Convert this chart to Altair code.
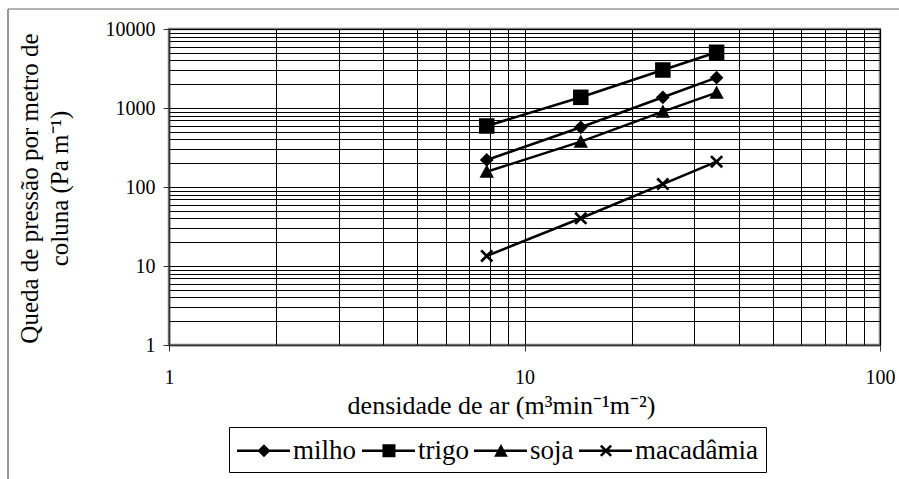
import altair as alt
import pandas as pd

# ---- data ----
series = ["milho", "trigo", "soja", "macadâmia"]
x_vals = [7.83, 14.4, 24.5, 34.7]
milho = [220, 570, 1366, 2420]
trigo = [592, 1366, 3027, 5070]
soja = [156, 375, 898, 1563]
macadamia = [13.4, 40.2, 109, 209]

x_major = [1, 10, 100]
y_major = [1, 10, 100, 1000, 10000]

rows = []
for name, vals in zip(series, [milho, trigo, soja, macadamia]):
    for xv, yv in zip(x_vals, vals):
        rows.append({"serie": name, "x": xv, "y": yv})
df = pd.DataFrame(rows)

# grid values: 1..9 times each decade
x_grid = [m * d for d in x_major[:-1] for m in range(1, 10)] + [x_major[-1]]
y_grid = [m * d for d in y_major[:-1] for m in range(1, 10)] + [y_major[-1]]

FONT = "Liberation Serif"
major = "abs(log(datum.value)/LN10 - round(log(datum.value)/LN10)) < 0.001"

xscale = alt.Scale(type="log", domain=[1, 100])
yscale = alt.Scale(type="log", domain=[1, 10000])

x_axis = alt.Axis(
    values=x_grid, format="d",
    labelExpr=f"({major}) ? datum.label : ''",
    labelOverlap=False, labelFlush=False, labelBound=False,
    tickOpacity={"condition": {"test": major, "value": 1}, "value": 0},
    tickSize=6, labelPadding=16,
    title="densidade de ar (m³min⁻¹m⁻²)",
    titleFont=FONT, titleFontSize=26, titleFontWeight="normal",
    titleX=332, titleY=68, titleBaseline="alphabetic", titleAlign="center",
)
y_axis = alt.Axis(
    values=y_grid, format="d",
    labelExpr=f"({major}) ? datum.label : ''",
    labelOverlap=False, labelFlush=False, labelBound=False,
    tickOpacity={"condition": {"test": major, "value": 1}, "value": 0},
    tickSize=6, labelPadding=8,
    title=["Queda de pressão por metro de", "coluna (Pa m⁻¹)"],
    titleFont=FONT, titleFontSize=25, titleFontWeight="normal",
    titleAngle=270, titleX=-132, titleY=159, titleBaseline="alphabetic",
    titleAlign="center", titleLineHeight=30,
)

# marker shapes (filled polygons, clockwise)
plot_paths = [
    "M0,-0.86L0.86,0L0,0.86L-0.86,0Z",
    "M-0.97,-0.97L0.97,-0.97L0.97,0.97L-0.97,0.97Z",
    "M0,-0.9L0.9,0.76L-0.9,0.76Z",
    "M-0.82,-0.58L-0.58,-0.82L0.82,0.58L0.58,0.82Z"
    "M0.58,-0.82L0.82,-0.58L-0.58,0.82L-0.82,0.58Z",
]

# legend symbols: line segment + marker
LINE = "M-1,-0.08L2.42,-0.08L2.42,0.08L-1,0.08Z"
c = 0.74
legend_paths = [
    LINE + f"M{c},-0.42L{c+0.42},0L{c},0.42L{c-0.42},0Z",
    LINE + f"M{c-0.42},-0.42L{c+0.42},-0.42L{c+0.42},0.42L{c-0.42},0.42Z",
    LINE + f"M{c},-0.44L{c+0.44},0.38L{c-0.44},0.38Z",
    LINE + f"M{c-0.39},-0.27L{c-0.27},-0.39L{c+0.39},0.27L{c+0.27},0.39Z"
    f"M{c+0.27},-0.39L{c+0.39},-0.27L{c-0.27},0.39L{c-0.39},0.27Z",
]

base = alt.Chart(df)

lines = base.mark_line(color="black", strokeWidth=2.5).encode(
    x=alt.X("x:Q", scale=xscale, axis=x_axis),
    y=alt.Y("y:Q", scale=yscale, axis=y_axis),
    detail="serie:N",
    order="x:Q",
)

points = base.mark_point(filled=True, color="black", opacity=1, size=256, strokeWidth=0).encode(
    x=alt.X("x:Q", scale=xscale),
    y=alt.Y("y:Q", scale=yscale),
    shape=alt.Shape("serie:N", scale=alt.Scale(domain=series, range=plot_paths), legend=None),
)

NB = "\u00a0"
legend_layer = base.transform_calculate(ylow="0.001").mark_point(
    filled=True, color="black", opacity=1, size=961, strokeWidth=0, clip=True
).encode(
    x=alt.X("x:Q", scale=xscale),
    y=alt.Y("ylow:Q", scale=yscale),
    shape=alt.Shape(
        "serie:N",
        scale=alt.Scale(domain=series, range=legend_paths),
        legend=alt.Legend(
            orient="none", legendX=60, legendY=398, direction="horizontal", columns=4,
            title=None, symbolSize=961, symbolStrokeWidth=0, symbolFillColor="black",
            symbolOpacity=1, labelFont=FONT, labelFontSize=27, labelColor="black",
            labelExpr=f"datum.label + (datum.label == 'macadâmia' ? '{NB * 6}' : '')",
            labelOffset=25, columnPadding=5, padding=8,
            strokeColor="black", fillColor="white",
        ),
    ),
)

frame_data = pd.DataFrame({"k": [0]})
frame_left = alt.Chart(frame_data).mark_rule(color="#333333", strokeWidth=1).encode(
    x=alt.value(-161), y=alt.value(-20), y2=alt.value(450)
)
frame_top = alt.Chart(frame_data).mark_rule(color="#666666", strokeWidth=1).encode(
    x=alt.value(-161), x2=alt.value(730), y=alt.value(-20)
)

chart = alt.layer(frame_left, frame_top, lines, points, legend_layer).resolve_scale(
    shape="independent"
).properties(
    width=711, height=316, autosize="none",
    padding={"left": 169, "top": 29, "right": 19, "bottom": 134},
    background="white",
).configure_view(
    stroke="#808080", strokeWidth=2.5
).configure_axis(
    domainColor="#333333", domainWidth=1.5,
    grid=True, gridColor="black", gridWidth=1, gridOpacity=1,
    tickColor="#333333", tickWidth=1,
    labelFont=FONT, labelFontSize=20, labelColor="black", titleColor="black",
).configure_legend(
    labelFont=FONT,
)

chart.save("out.html", embed_options={"renderer": "svg", "actions": False})
